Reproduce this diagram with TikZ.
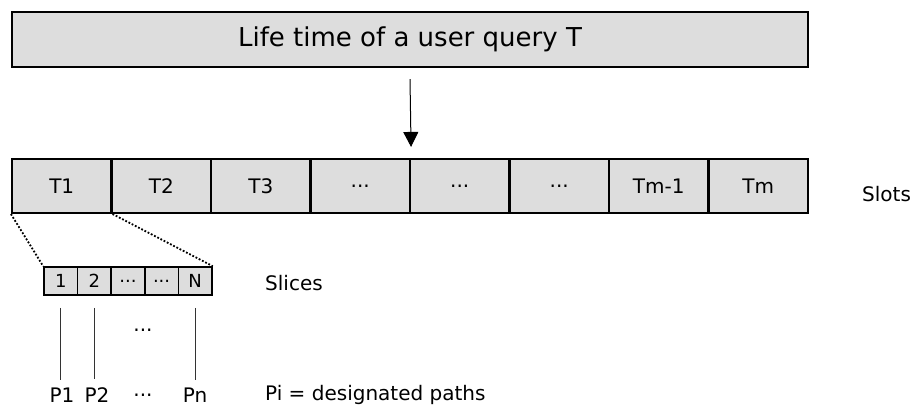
\documentclass[tikz,border=0pt]{standalone}
\usepackage{fontspec}
\setmainfont{DejaVu Sans}
\usetikzlibrary{arrows.meta}
\newcommand\mydots{...}
\tikzset{
  box/.style={draw=black, fill=gray!27, line width=2.1pt, inner sep=0pt},
  slotbox/.style={box, minimum width=99.5pt, minimum height=54pt, font=\fontsize{20}{24}\selectfont},
  slicebox/.style={box, line width=1.6pt, minimum width=33.6pt, minimum height=28pt, font=\fontsize{18}{20}\selectfont},
  lbl/.style={font=\fontsize{20}{24}\selectfont, inner sep=0pt},
  zoomline/.style={line width=1.8pt, dash pattern=on 1.8pt off 1.8pt},
  pathline/.style={line width=0.7pt, black!80},
}
\begin{document}
\begin{tikzpicture}[x=1pt,y=-1pt]
\useasboundingbox (0,0) rectangle (914,409);
\node[box, minimum width=796pt, minimum height=55pt, font=\fontsize{26}{30}\selectfont] (top) at (410,39.5) {Life time of a user query T};
\foreach \i/\t in {1/T1,2/T2,3/T3,4/\mydots,5/\mydots,6/\mydots,7/Tm-1,8/Tm}{
  \node[slotbox] (s\i) at ({12+99.5*(\i-0.5)},186) {\t};
}
\foreach \j/\t in {1/1,2/2,3/\mydots,4/\mydots,5/N}{
  \node[slicebox] (c\j) at ({44+33.6*(\j-0.5)},281) {\t};
}
\draw[line width=1pt, -{Triangle[width=15pt,length=15pt]}] (top.south) ++(0,11) -- ([yshift=11pt]s4.north east);
\draw[zoomline] (s1.south west) -- (c1.north west);
\draw[zoomline] (s1.south east) -- (c5.north east);
\node[lbl, anchor=west] (slots) at (862,194) {Slots};
\node[lbl, anchor=west] (slices) at (265,283) {Slices};
\node[lbl] (p1) at (62,395) {P1};
\node[lbl] (p2) at (97,395) {P2};
\node[lbl] (pd) at (143,395) {\mydots};
\node[lbl] (pn) at (195,395) {Pn};
\node[lbl] (pdots) at (143,330) {\mydots};
\node[lbl, anchor=west] (pi) at (265,395) {Pi = designated paths};
\foreach \a/\b in {c1/p1,c2/p2,c5/pn}{
  \draw[pathline] ([yshift=-12pt]\a.south) -- ([yshift=8pt]\a.south |- \b.north);
}
\end{tikzpicture}
\end{document}
